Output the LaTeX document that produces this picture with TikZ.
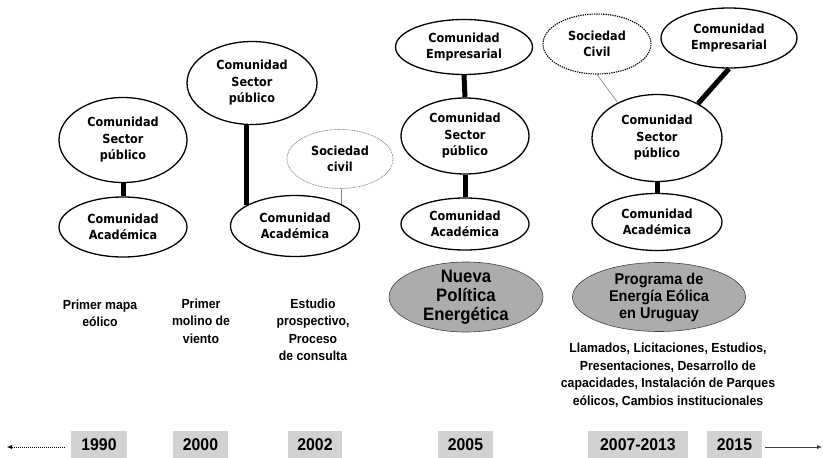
\documentclass[tikz,border=0pt]{standalone}
\usepackage{fontspec}
\usetikzlibrary{shapes.geometric,arrows.meta}
\newfontfamily\ellfont{DejaVu Sans}[FakeStretch=0.9]
\newfontfamily\capfont{Liberation Sans}[FakeStretch=0.93]
\begin{document}
\begin{tikzpicture}[x=1pt, y=-1pt,
	comm/.style={ellipse, draw, line width=1.3pt, inner sep=0pt, align=center,
		font=\ellfont\bfseries\fontsize{12.5}{16.5}\selectfont},
	civil/.style={comm, densely dotted},
	policy/.style={ellipse, draw=darkgray, fill=gray!65, line width=0.6pt, inner sep=-14pt, align=center},
	caption/.style={align=center, font=\capfont\bfseries\fontsize{13.2}{17.5}\selectfont},
	yearbox/.style={fill=gray!35, minimum height=27pt, inner sep=0pt,
		font=\capfont\bfseries\fontsize{17}{18}\selectfont},
	link/.style={line width=5pt},
	thinlink/.style={gray, line width=0.6pt}]
	\useasboundingbox (0,0) rectangle (823,458);
	%1990
	\node[comm, minimum width=128pt, minimum height=85pt] (s1990) at (123,140) {Comunidad\\Sector\\público};
	\node[comm, minimum width=128pt, minimum height=60pt] (a1990) at (123,227) {Comunidad\\Académica};
	\draw[link] (s1990.south) -- (a1990.north);
	%2000 - 2002
	\node[comm, minimum width=130pt, minimum height=83pt] (s2000) at (252,83) {Comunidad\\Sector\\público};
	\node[comm, minimum width=129pt, minimum height=61pt] (a2000) at (295,226) {Comunidad\\Académica};
	\node[civil, draw=gray, line width=0.8pt, dash pattern=on 0.8pt off 0.8pt,
		minimum width=106pt, minimum height=59pt] (c2000) at (340,159) {Sociedad\\civil};
	\draw[link] (a2000.157) -- (a2000.157 |- s2000.south);
	\draw[thinlink] (a2000.25 |- c2000.south) -- (a2000.25);
	%2005
	\node[comm, minimum width=137pt, minimum height=55pt] (e2005) at (464,47) {Comunidad\\Empresarial};
	\node[comm, minimum width=128pt, minimum height=76pt] (s2005) at (465,136) {Comunidad\\Sector\\público};
	\node[comm, minimum width=128pt, minimum height=52pt] (a2005) at (465,224) {Comunidad\\Académica};
	\node[policy, minimum width=154pt, minimum height=70pt,
		font=\capfont\bfseries\fontsize{18}{19}\selectfont] (p2005) at (466,297) {Nueva\\Política\\Energética};
	\draw[link] (e2005.south) -- (s2005.north);
	\draw[link] (s2005.south) -- (a2005.north);
	%2007 - 2015
	\node[civil, line width=1.1pt, minimum width=108pt, minimum height=60pt] (c2007) at (597,44) {Sociedad\\Civil};
	\node[comm, minimum width=136pt, minimum height=60pt] (e2015) at (729,38) {Comunidad\\Empresarial};
	\node[comm, minimum width=130pt, minimum height=87pt] (s2007) at (657,138) {Comunidad\\Sector\\público};
	\node[comm, minimum width=130pt, minimum height=57pt] (a2007) at (657,222) {Comunidad\\Académica};
	\node[policy, minimum width=173pt, minimum height=69pt,
		font=\capfont\bfseries\fontsize{15.6}{17}\selectfont] (p2007) at (659,297) {Programa de\\Energía Eólica\\en Uruguay};
	\draw[link] (e2015.south) -- (s2007.40);
	\draw[thinlink] (c2007.south) -- (s2007.138);
	\draw[link] (s2007.south) -- (a2007.north);
	%labels
	\node[caption] (t1990) at (100,313.5) {Primer mapa\\eólico};
	\node[caption] (t2000) at (201,321) {Primer\\molino de\\viento};
	\node[caption] (t2002) at (313,330) {Estudio\\prospectivo,\\Proceso\\de consulta};
	\node[caption] (t2007) at (668,375) {Llamados, Licitaciones, Estudios,\\Presentaciones, Desarrollo de\\capacidades, Instalación de Parques\\eólicos, Cambios institucionales};
	%timeline
	\foreach \yr/\xc/\bw in {1990/99/56, 2000/200.5/55, 2002/315/54, 2005/465.5/55, 2007-2013/638/100, 2015/734.5/55}
	\node[yearbox, minimum width=\bw pt] (y\yr) at (\xc,444.5) {\yr};
	\coordinate (past) at (7,447);
	\coordinate (future) at (822,447);
	\draw[dash pattern=on 1pt off 1pt, shorten <=6pt, -{Latex[length=5pt,width=4pt]}] (y1990.west |- past) -- (past);
	\draw[darkgray, shorten <=3pt, -{Latex[length=5pt,width=4pt]}] (y2015.east |- future) -- (future);
\end{tikzpicture}
\end{document}
